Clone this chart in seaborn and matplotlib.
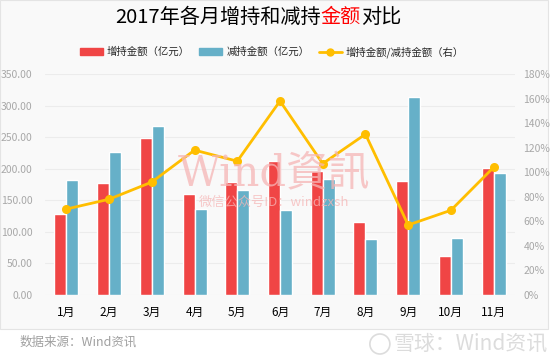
import numpy as np
import pandas as pd
import matplotlib
matplotlib.use("Agg")
import matplotlib.pyplot as plt
import seaborn as sns
from matplotlib.patches import Rectangle, Patch, Ellipse
from matplotlib.ticker import FuncFormatter
from matplotlib.lines import Line2D

# Data
months = ["1月", "2月", "3月", "4月", "5月", "6月", "7月", "8月", "9月", "10月", "11月"]
increase = [128, 177, 248, 160, 179, 213, 196, 115, 180, 62, 201]
decrease = [182, 227, 268, 136, 166, 135, 183, 88, 313, 90, 193]
ratio = [70, 78, 92, 118, 109, 158, 107, 131, 57, 69, 104]

RED = "#f04545"
BLUE = "#66b0c8"
YELLOW = "#ffbe00"
GRAY = "#a8a8a8"

sns.set_style("white")
plt.rcParams["font.family"] = ["Noto Sans CJK SC", "DejaVu Sans"]

df = pd.DataFrame({
    "month": months * 2,
    "value": increase + decrease,
    "series": ["增持金额（亿元）"] * len(months) + ["减持金额（亿元）"] * len(months),
})

fig = plt.figure(figsize=(5.54, 3.59), dpi=100)
fig.patch.set_facecolor("white")

# light grey chart panel behind everything
panel = Rectangle((0, 1 - 329 / 359), 548 / 554, 329 / 359, transform=fig.transFigure,
                  facecolor="#f9f9f9", edgecolor="#e4e4e4", linewidth=0.8, zorder=-10)
fig.patches.append(panel)

ax = fig.add_axes([45 / 554, 1 - 295 / 359, 470 / 554, 221 / 359])
ax.patch.set_alpha(0)
sns.barplot(data=df, x="month", y="value", hue="series", palette=[RED, BLUE],
            width=0.56, gap=0, saturation=1, ax=ax, legend=False, zorder=2)
ax.set_ylim(0, 350)
ax.set_xlim(-0.5, len(months) - 0.5)
ax.set_yticks(np.arange(0, 351, 50))
ax.yaxis.set_major_formatter(FuncFormatter(lambda v, p: f"{v:.2f}"))
ax.grid(axis="y", color="#ececec", linewidth=0.8, zorder=0)
ax.set_axisbelow(True)
ax.set_xlabel("")
ax.set_ylabel("")
ax.tick_params(axis="y", colors=GRAY, labelsize=7.5, length=0, pad=9)
ax.tick_params(axis="x", colors="black", labelsize=8.5, length=0, pad=8)
for s in ax.spines.values():
    s.set_visible(False)

ax2 = ax.twinx()
sns.pointplot(x=np.arange(len(months)), y=ratio, color=YELLOW, native_scale=True,
              markers="o", markersize=5, linewidth=2, ax=ax2)
ax2.set_xlim(-0.5, len(months) - 0.5)
ax2.set_ylim(0, 180)
ax2.set_yticks(np.arange(0, 181, 20))
ax2.yaxis.set_major_formatter(FuncFormatter(lambda v, p: f"{v:.0f}%"))
ax2.tick_params(axis="y", colors=GRAY, labelsize=7.5, length=0, pad=6)
for s in ax2.spines.values():
    s.set_visible(False)

# watermark
fig.text(274 / 554, 1 - 174 / 359, "Wind資訊", fontsize=30, color="#f6b6b6", alpha=0.75,
         ha="center", va="center", family=["DejaVu Serif", "Noto Sans CJK SC"], zorder=5)
fig.text(274 / 554, 1 - 202 / 359, "微信公众号ID：windzxsh", fontsize=9.5, color="#f6b6b6",
         alpha=0.75, ha="center", va="center", zorder=5)

# title with "金额" in red
parts = [("2017年各月增持和减持", "black"), ("金额", "red"), ("对比", "black")]
x0 = 115 / 554
renderer = fig.canvas.get_renderer()
for txt, col in parts:
    tt = fig.text(x0, 1 - 17 / 359, txt, fontsize=14.5, color=col, ha="left", va="center")
    bb = tt.get_window_extent(renderer=renderer)
    x0 += bb.width / fig.bbox.width

handles = [Patch(color=RED), Patch(color=BLUE),
           Line2D([0], [0], color=YELLOW, lw=2, marker="o", markersize=5)]
labels = ["增持金额（亿元）", "减持金额（亿元）", "增持金额/减持金额（右）"]
fig.legend(handles, labels, loc="center", bbox_to_anchor=(272 / 554, 1 - 52 / 359), ncol=3,
           frameon=False, fontsize=7.5, handlelength=2.2, handleheight=0.6, columnspacing=0.9,
           handletextpad=0.4)

fig.text(20 / 554, 1 - 342 / 359, "数据来源：Wind资讯", fontsize=9, color="#a0a0a0", va="center")
xq = fig.text(548 / 554, 1 - 344 / 359, "雪球：Wind资讯", fontsize=15, color="#dcdcdc",
              ha="right", va="center")
qb = xq.get_window_extent(renderer=renderer)
fig.patches.append(Ellipse(((qb.x0 - 14) / 554, 1 - 344 / 359), 20 / 554, 20 / 359,
                           transform=fig.transFigure, facecolor="none", edgecolor="#dcdcdc",
                           linewidth=1.2))

fig.savefig("out.png", dpi=100, facecolor=fig.get_facecolor())
